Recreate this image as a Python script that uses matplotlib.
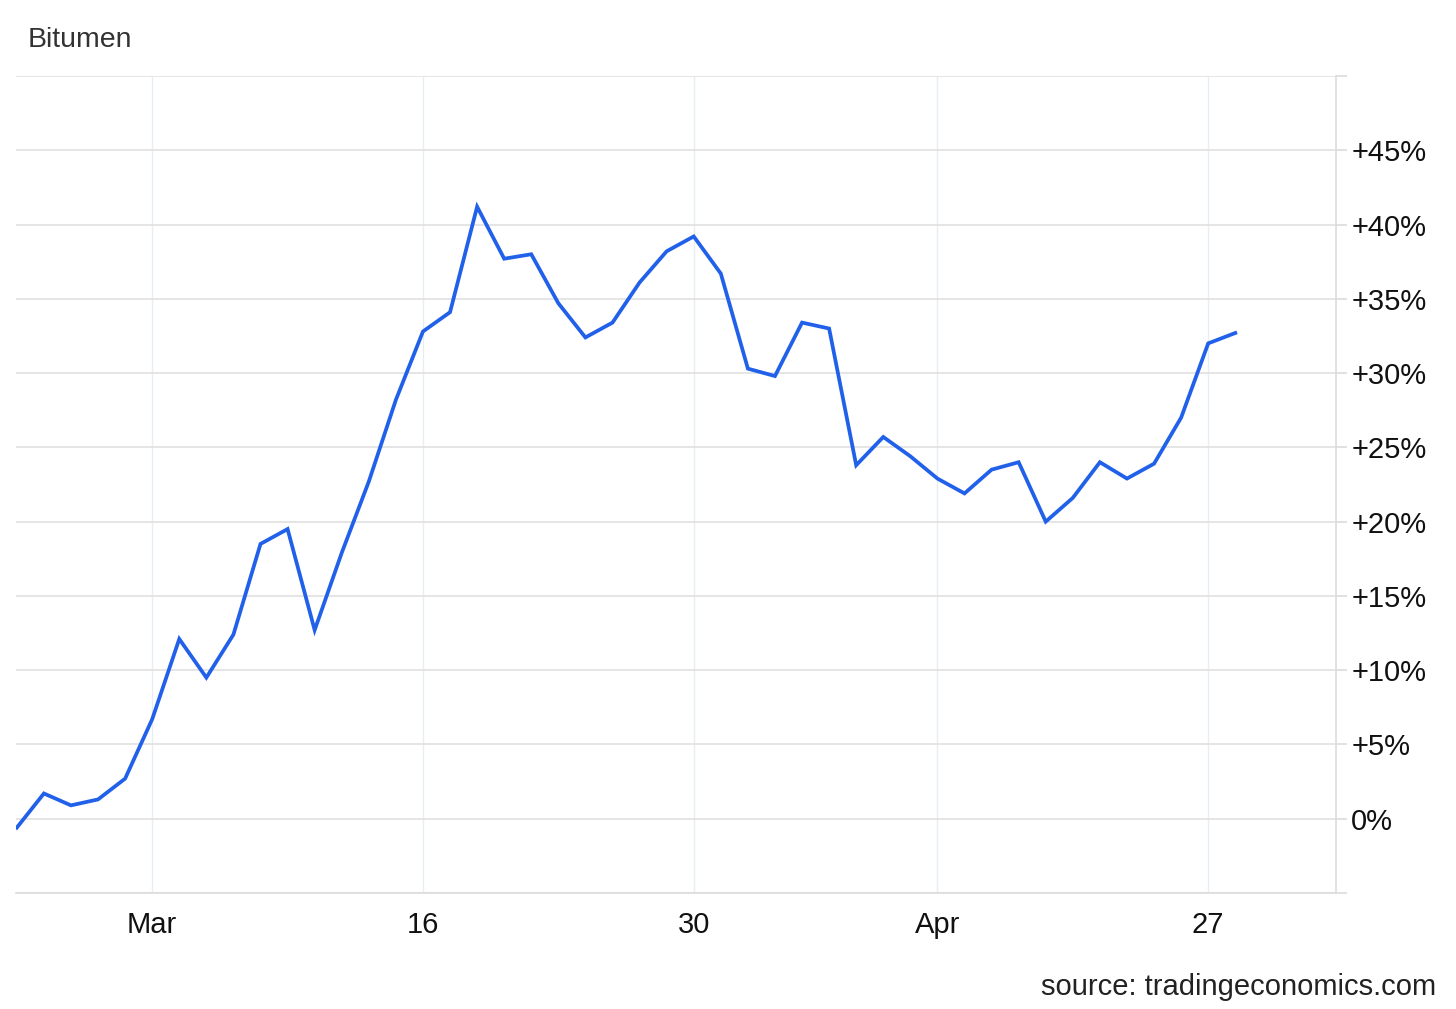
import matplotlib.pyplot as plt

# daily % change of bitumen price (trading days)
values = [-0.6, 1.7, 0.9, 1.3, 2.7, 6.7, 12.1, 9.5, 12.4, 18.5,
          19.5, 12.7, 17.9, 22.7, 28.2, 32.8, 34.1, 41.2, 37.7, 38.0,
          34.7, 32.4, 33.4, 36.1, 38.2, 39.2, 36.7, 30.3, 29.8, 33.4,
          33.0, 23.8, 25.7, 24.4, 22.9, 21.9, 23.5, 24.0, 20.0, 21.6,
          24.0, 22.9, 23.9, 27.0, 32.0, 32.7]
x_tick_pos = [5, 15, 25, 34, 44]
x_tick_labels = ['Mar', '16', '30', 'Apr', '27']
y_ticks = list(range(-5, 55, 5))

plt.rcParams["font.family"] = ["Liberation Sans", "DejaVu Sans"]
fig = plt.figure(figsize=(14.56, 10.09), dpi=100)
ax = fig.add_axes([16/1456, 1 - 893/1009, 1320/1456, 817/1009])

ax.plot(range(len(values)), values, '-', c='#2161ea', linewidth=2.7,
        solid_joinstyle='miter', zorder=3)

ax.set_xlim(-0.03, 48.72)
ax.set_ylim(-5, 50)

ax.set_xticks(x_tick_pos)
ax.set_xticklabels(x_tick_labels)
ax.set_yticks(y_ticks)
ax.set_yticklabels(['' if v in (-5, 50) else ('0%' if v == 0 else '+%d%%' % v)
                    for v in y_ticks])

ax.yaxis.tick_right()
ax.tick_params(axis='y', direction='out', length=8, width=1.2, color='#dcdcdc',
               labelsize=21, pad=3, labelcolor='#111111')
ax.tick_params(axis='x', length=0, labelsize=21, pad=13, labelcolor='#111111')

ax.grid(axis='y', color='#e0e0e0', linewidth=1.2)
ax.grid(axis='x', color='#e6eef2', linewidth=1.0)

for s in ['left', 'top']:
    ax.spines[s].set_visible(False)
ax.spines['right'].set_color('#dcdcdc')
ax.spines['right'].set_linewidth(1.2)
ax.spines['bottom'].set_color('#dcdcdc')
ax.spines['bottom'].set_linewidth(1.2)

fig.text(28/1456, 1 - 40/1009, 'Bitumen', fontsize=20.5, color='#333333',
         ha='left', va='center')
fig.text(1436/1456, 1 - 987/1009, 'source: tradingeconomics.com', fontsize=21,
         color='#222222', ha='right', va='center')

fig.savefig('out.png', dpi=100)
